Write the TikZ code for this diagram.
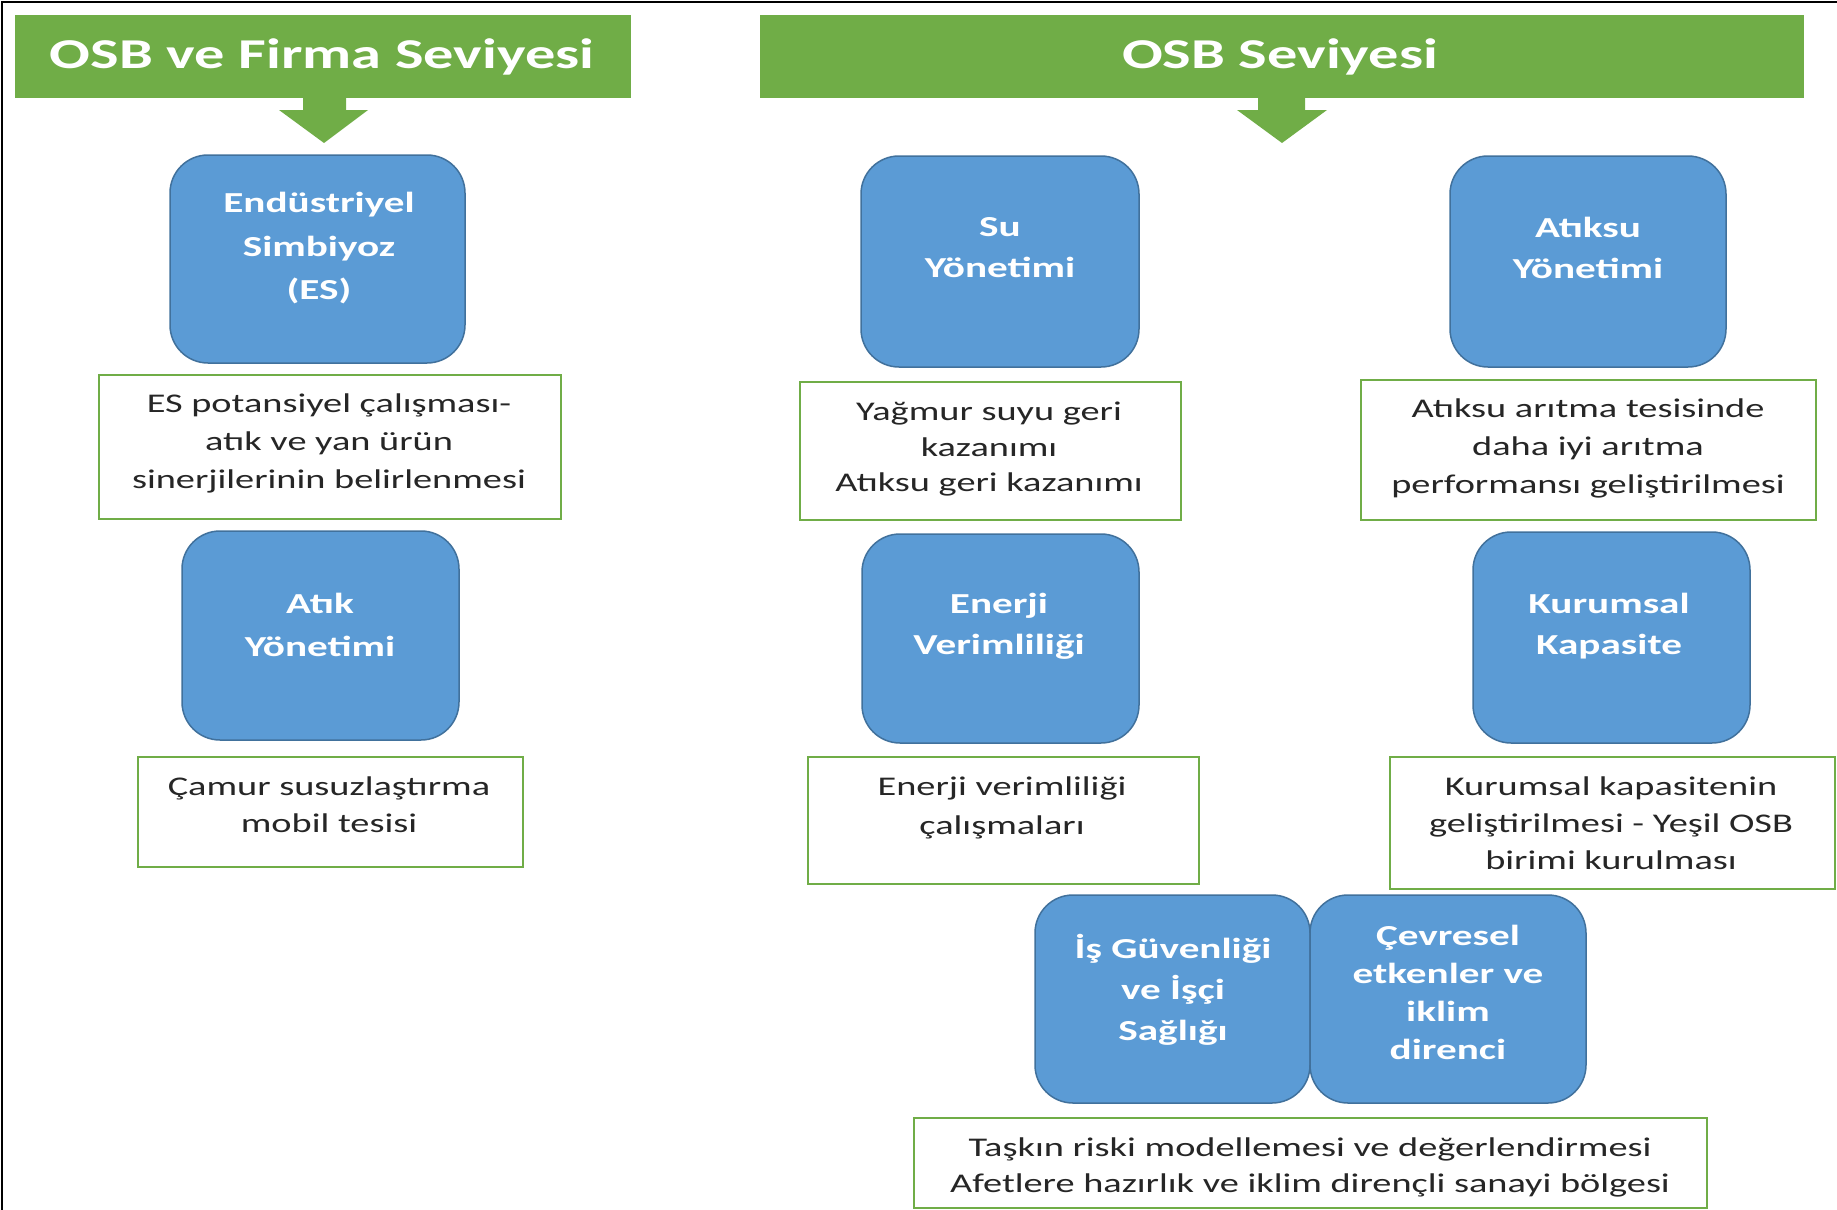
\documentclass[tikz,border=0pt]{standalone}
\usepackage{fontspec}
\setmainfont{Carlito}[FakeStretch=1.42]
\definecolor{hgreen}{HTML}{70AD47}
\definecolor{bfill}{HTML}{5B9BD5}
\definecolor{bline}{HTML}{41719C}
\definecolor{tgray}{HTML}{262626}
\tikzset{
  header/.style={fill=hgreen, draw=none, inner sep=0pt},
  headtext/.style={text=white, font=\fontsize{42.5}{50}\selectfont\bfseries, inner sep=0pt},
  bluebox/.style={fill=bfill, draw=bline, line width=1.5pt, rounded corners=38pt, inner sep=0pt},
  bluetext/.style={text=white, align=center, inner sep=0pt, font=\fontsize{29}{41}\selectfont\bfseries},
  greenbox/.style={draw=hgreen, line width=2pt, fill=white, inner sep=0pt},
  bodytext/.style={text=tgray, align=center, inner sep=0pt, font=\fontsize{27}{37}\selectfont},
  downarrow/.style={fill=hgreen, draw=none}
}
\begin{document}
\begin{tikzpicture}[x=1pt, y=-1pt]
\useasboundingbox (0,0) rectangle (1837,1210);
% frame (left and top)
\draw[black, line width=2.5pt] (2,1210) -- (2,2) -- (1837,2);

% headers
\node[header, minimum width=616pt, minimum height=83pt] (h1) at (323,56.5) {};
\node[headtext] (h1t) at (322,57) {OSB ve Firma Seviyesi};
\node[header, minimum width=1044pt, minimum height=83pt] (h2) at (1282,56.5) {};
\node[headtext] (h2t) at (1280,57) {OSB Seviyesi};

% down arrows
\fill[downarrow] (303,98) -- (346,98) -- (346,110) -- (368,110) -- (324,143) -- (279,110) -- (303,110) -- cycle;
\fill[downarrow] (1258,98) -- (1305,98) -- (1305,110) -- (1327,110) -- (1282,143) -- (1237,110) -- (1258,110) -- cycle;

% blue boxes
\node[bluebox, minimum width=295pt, minimum height=208pt] (es) at (317.5,259) {};
\node[bluetext, font=\fontsize{29}{43.5}\selectfont\bfseries] (est) at (319,248.5) {Endüstriyel\\Simbiyoz\\(ES)};
\node[bluebox, minimum width=277pt, minimum height=209pt] (atik) at (320.5,635.5) {};
\node[bluetext, font=\fontsize{29}{43}\selectfont\bfseries] (atikt) at (320,625) {Atık\\Yönetimi};
\node[bluebox, minimum width=278pt, minimum height=211pt] (su) at (1000,261.5) {};
\node[bluetext] (sut) at (1000,247.5) {Su\\Yönetimi};
\node[bluebox, minimum width=276pt, minimum height=211pt] (atiksu) at (1588,261.5) {};
\node[bluetext] (atiksut) at (1588,248) {Atıksu\\Yönetimi};
\node[bluebox, minimum width=277pt, minimum height=209pt] (enerji) at (1000.5,638.5) {};
\node[bluetext] (enerjit) at (999,626) {Enerji\\Verimliliği};
\node[bluebox, minimum width=277pt, minimum height=211pt] (kurumsal) at (1611.5,637.5) {};
\node[bluetext] (kurumsalt) at (1609,626) {Kurumsal\\Kapasite};
\node[bluebox, minimum width=275pt, minimum height=208pt] (is) at (1172.5,999) {};
\node[bluetext] (ist) at (1173,990) {İş Güvenliği\\ve İşçi\\Sağlığı};
\node[bluebox, minimum width=276pt, minimum height=208pt] (cevre) at (1448,999) {};
\node[bluetext, font=\fontsize{29}{38}\selectfont\bfseries] (cevret) at (1448,992) {Çevresel\\etkenler ve\\iklim\\direnci};

% green text boxes
\node[greenbox, minimum width=462pt, minimum height=144pt] (esb) at (330,447) {};
\node[bodytext, font=\fontsize{27}{38}\selectfont] (esbt) at (329,443.5) {ES potansiyel çalışması-\\atık ve yan ürün\\sinerjilerinin belirlenmesi};
\node[greenbox, minimum width=385pt, minimum height=110pt] (camur) at (330,812) {};
\node[bodytext] (camurt) at (329,804.5) {Çamur susuzlaştırma\\mobil tesisi};
\node[greenbox, minimum width=381pt, minimum height=138pt] (yagmur) at (990,451) {};
\node[bodytext, font=\fontsize{27}{35.5}\selectfont] (yagmurt) at (989,449.5) {Yağmur suyu geri\\kazanımı\\Atıksu geri kazanımı};
\node[greenbox, minimum width=455pt, minimum height=140pt] (aritma) at (1588.5,450) {};
\node[bodytext, font=\fontsize{27}{38}\selectfont] (aritmat) at (1588,448) {Atıksu arıtma tesisinde\\daha iyi arıtma\\performansı geliştirilmesi};
\node[greenbox, minimum width=391pt, minimum height=127pt] (enerjib) at (1003.5,820) {};
\node[bodytext, font=\fontsize{27}{39}\selectfont] (enerjibt) at (1002,807.5) {Enerji verimliliği\\çalışmaları};
\node[greenbox, minimum width=445pt, minimum height=132pt] (kurumsalb) at (1612.5,823) {};
\node[bodytext] (kurumsalbt) at (1611,823) {Kurumsal kapasitenin\\geliştirilmesi - Yeşil OSB\\birimi kurulması};
\node[greenbox, minimum width=793pt, minimum height=90pt] (taskin) at (1310,1163) {};
\node[bodytext, font=\fontsize{27}{36}\selectfont] (taskint) at (1310,1167) {Taşkın riski modellemesi ve değerlendirmesi\\Afetlere hazırlık ve iklim dirençli sanayi bölgesi};
\end{tikzpicture}
\end{document}
